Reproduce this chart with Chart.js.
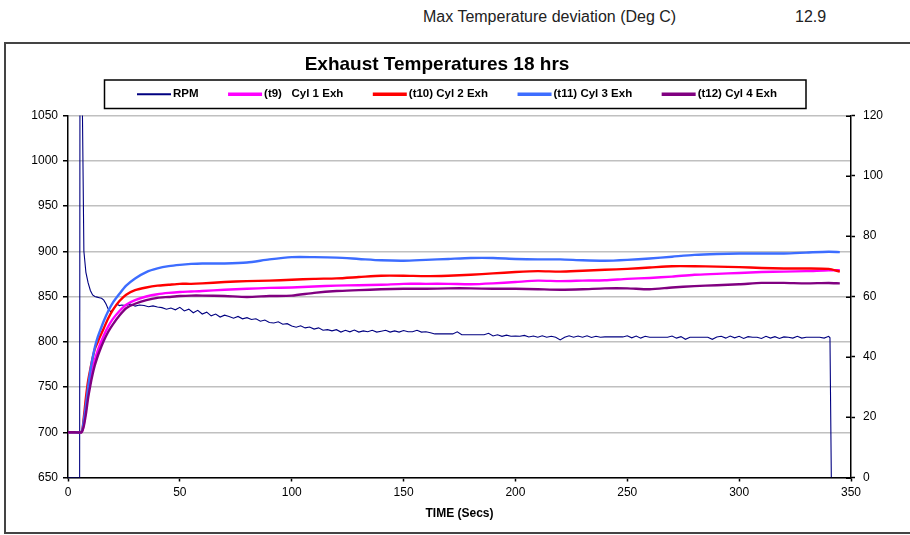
<!DOCTYPE html>
<html><head><meta charset="utf-8">
<script src="https://cdn.jsdelivr.net/npm/chart.js@4.4.1/dist/chart.umd.min.js"></script>
<style>
html,body{margin:0;padding:0;background:#fff;}
#wrap{position:relative;width:910px;height:535px;overflow:hidden;font-family:"Liberation Sans",Arial,sans-serif;}
#frame{position:absolute;left:4px;top:42px;width:930px;height:492px;border:2px solid #444;box-sizing:border-box;}
.hdr{position:absolute;top:7px;font-size:16px;color:#222;line-height:20px;white-space:pre;}
canvas{position:absolute;left:0;top:0;}
</style></head><body>
<div id="wrap">
<div class="hdr" style="left:423px">Max Temperature deviation (Deg C)</div>
<div class="hdr" style="left:795px">12.9</div>
<div id="frame"></div>
<canvas id="c" width="910" height="535"></canvas>
</div>
<script>
// ---------- DATA ----------
const seriesLabels = ['RPM', '(t9)   Cyl 1 Exh', '(t10) Cyl 2 Exh', '(t11) Cyl 3 Exh', '(t12) Cyl 4 Exh'];
const xTicks = [0, 50, 100, 150, 200, 250, 300, 350];
const yTicks = [650, 700, 750, 800, 850, 900, 950, 1000, 1050];
const y2Ticks = [0, 20, 40, 60, 80, 100, 120];

const tempTime = [0,3,6,7,8,9,10,11,12,13,14,16,18,20,23,26,30,35,40,45,50,55,60,70,80,90,100,110,120,130,140,150,160,170,180,190,200,210,220,230,240,250,260,270,280,290,300,310,320,330,340,345];
const cyl1 = [700,700,700,708,725,743,758,770,780,788,795,807,817,825,834,841,846,850,852.5,854,855,855.5,856,857.5,858.5,859.5,860,861,862,862.5,863,864,864,864,863.5,864.5,866,867.5,867,867.5,868,869.5,870.5,872,874,875,876,877,877.5,878,879,879];
const cyl2 = [700,700,700,715,738,757,770,782,792,798,804,815,826,835,845,852,857,860,862,863,864,864,864.5,866,867,867.5,868.5,869.5,870,871.5,873,873,872.5,873,874,875.5,877,878,877.5,878.5,879.5,880.5,882,883.5,883.5,883,882.5,881.5,881,881,880.5,877.5];
const cyl3 = [700,700,700,712,730,750,768,782,794,803,810,823,834,843,853,862,870,877,881,883.5,885,886,886.5,886.5,887.5,891,893.5,893.5,893,891.5,890,889.5,890.5,891.5,892.5,892.5,891.5,891,891,890,889.5,890.5,892,894,896,897,897.5,897.5,897.5,898.5,899.5,899];
const cyl4 = [700,700,700,706,720,738,752,764,774,782,789,801,811,819,829,837,842,846,848.5,849.5,850.5,851,851,850.5,849.5,850.5,851,854,856,857,858,858.5,858.5,859,859,858.5,858.5,858,857.5,858,859,859,858,860,861.5,862.5,863.5,865,865,864.5,865,864.5];

const rpmTime = [0,5.2,5.4,5.9,7.1,8,9,10,11,12,13,14,15,16,17,18,19,20,21,22,23,
24,26,28,30,32,34,36,38,40,
42,44,46,48,50,52,54,56,58,60,
62,64,66,68,70,72,74,76,78,80,
82,84,86,88,90,92,94,96,98,100,
102,104,106,108,110,112,114,116,118,120,
122,124,126,128,130,132,134,136,138,140,
142,144,146,148,150,152,154,156,158,160,
162,164,166,168,170,172,174,176,178,180,
182,184,186,188,190,192,194,196,198,200,
202,204,206,208,210,212,214,216,218,220,
222,224,226,228,230,232,234,236,238,240,
242,244,246,248,250,252,254,256,258,260,
262,264,266,268,270,272,274,276,278,280,
282,284,286,288,290,292,294,296,298,300,
302,304,306,308,310,312,314,316,318,320,
322,324,326,328,330,332,334,336,338,340,
340.6,341.2];
const rpm = [0,0,180,160,75,68,64.5,62,60.5,60,59.8,59.6,59.4,58.8,57.5,55.8,55,55.6,56.6,57.4,57,
57.2,57.0,57.5,56.8,57.2,57.0,56.6,56.9,56.5,
56.3,55.8,56.2,55.6,56.4,55.2,55.8,54.6,55.4,54.2,
54.8,53.6,54.2,53.2,53.8,53.4,52.8,53.4,52.6,53.0,
52.4,52.6,51.8,52.2,51.4,51.2,51.6,50.8,51.0,50.2,
49.8,50.3,49.6,49.9,49.2,49.6,48.8,49.0,48.6,49.0,
48.2,48.8,48.3,48.9,48.2,48.6,48.3,48.8,48.2,48.5,
48.8,48.2,48.6,48.2,48.7,48.3,48.3,48.8,48.2,48.3,
48.0,47.6,47.6,47.6,47.6,47.6,48.3,47.3,47.3,47.3,
47.3,47.3,47.3,47.8,46.9,47.3,46.8,47.2,46.8,46.9,
46.8,47.1,46.6,46.9,46.5,47.0,46.5,46.8,46.5,45.6,
46.5,47.0,46.5,46.9,46.5,47.0,46.4,46.8,46.5,46.6,
46.6,46.6,46.6,46.6,47.0,46.3,46.9,46.2,46.8,46.5,
46.5,46.5,46.5,46.5,46.9,46.2,46.7,45.8,46.5,46.5,
46.5,46.5,46.5,45.8,46.6,46.8,46.2,46.9,46.3,46.8,
46.1,46.7,46.5,46.5,46.1,46.8,46.2,46.7,46.1,46.6,
46.5,46.2,46.8,46.2,46.5,46.5,46.5,46.5,46.2,46.8,
46.3,0];

// ---------- CHART ----------
const FONT = '"Liberation Sans", Arial, sans-serif';
Chart.defaults.font.family = FONT;
Chart.defaults.color = '#000';

const pts = (xs, ys) => xs.map((x, i) => ({x: x, y: ys[i]}));
const plain = v => String(v);

const titleShift = {
  id: 'titleShift',
  afterLayout(chart) {
    const t = chart.titleBlock;
    if (t) { t.left -= 18; t.right -= 18; }
  }
};

const legendBox = {
  id: 'legendBox',
  afterDraw(chart) {
    const ctx = chart.ctx;
    const L = 104.5, T = 80, W = 701.5, H = 28.5;
    ctx.save();
    ctx.strokeStyle = '#000';
    ctx.lineWidth = 1.5;
    ctx.strokeRect(L, T, W, H);
    ctx.font = 'bold 11.5px ' + FONT;
    ctx.textBaseline = 'middle';
    ctx.textAlign = 'left';
    const cy = T + H / 2;
    let x = 137;
    chart.data.datasets.forEach(ds => {
      ctx.strokeStyle = ds.borderColor;
      ctx.lineWidth = ds.borderWidth + 1;
      ctx.beginPath();
      ctx.moveTo(x, cy);
      ctx.lineTo(x + 34, cy);
      ctx.stroke();
      ctx.fillStyle = '#000';
      ctx.fillText(ds.label, x + 36, cy);
      x += 36 + ctx.measureText(ds.label).width + 29.5;
    });
    ctx.restore();
  }
};

const innerTicks = {
  id: 'innerTicks',
  afterDraw(chart) {
    const ctx = chart.ctx, s = chart.scales.y2, a = chart.chartArea;
    ctx.save();
    ctx.strokeStyle = '#000';
    ctx.lineWidth = 1.5;
    s.ticks.forEach(t => {
      const py = Math.round(s.getPixelForValue(t.value)) + 0.25;
      ctx.beginPath();
      ctx.moveTo(a.right - 5, py);
      ctx.lineTo(a.right, py);
      ctx.stroke();
    });
    ctx.restore();
  }
};

const tempDs = (label, data, color, order) => ({
  label, data: pts(tempTime, data), yAxisID: 'y', borderColor: color, backgroundColor: color,
  borderWidth: 2.4, pointRadius: 0, tension: 0.25, order
});

new Chart(document.getElementById('c'), {
  type: 'line',
  data: {
    datasets: [
      {label: seriesLabels[0], data: pts(rpmTime, rpm), yAxisID: 'y2', borderColor: '#000080',
       backgroundColor: '#000080', borderWidth: 1.1, pointRadius: 0, tension: 0, order: 5},
      tempDs(seriesLabels[1], cyl1, '#ff00ff', 4),
      tempDs(seriesLabels[2], cyl2, '#ff0000', 3),
      tempDs(seriesLabels[3], cyl3, '#3d6dff', 2),
      tempDs(seriesLabels[4], cyl4, '#800080', 1)
    ]
  },
  options: {
    responsive: false, animation: false, devicePixelRatio: 1,
    layout: {padding: {top: 50, left: 0, right: 0, bottom: 0}},
    plugins: {
      legend: {display: false},
      tooltip: {enabled: false},
      title: {display: true, text: 'Exhaust Temperatures 18 hrs', color: '#000',
              font: {size: 19, weight: 'bold'}, padding: {top: 3, bottom: 39.7}}
    },
    scales: {
      x: {
        type: 'linear', min: xTicks[0], max: xTicks[xTicks.length - 1],
        afterBuildTicks(s) { s.ticks = xTicks.map(v => ({value: v})); },
        ticks: {color: '#000', font: {size: 12}, padding: 4, maxRotation: 0, callback: plain},
        grid: {drawOnChartArea: false, tickLength: 4, tickColor: '#000', tickWidth: 1.5},
        border: {color: '#000', width: 1.5},
        title: {display: true, text: 'TIME (Secs)', color: '#000', font: {size: 12, weight: 'bold'},
                padding: {top: 0, bottom: 14}},
        afterFit(s) { s.height = 57.5; }
      },
      y: {
        position: 'left', min: yTicks[0], max: yTicks[yTicks.length - 1],
        afterBuildTicks(s) { s.ticks = yTicks.map(v => ({value: v})); },
        ticks: {color: '#000', font: {size: 12}, padding: 5, callback: plain},
        grid: {color: '#c0c0c0', lineWidth: 1.5, tickLength: 5, tickColor: '#000', tickWidth: 1.5},
        border: {color: '#000', width: 1.5},
        afterFit(s) { s.width = 68; }
      },
      y2: {
        position: 'right', min: y2Ticks[0], max: y2Ticks[y2Ticks.length - 1],
        afterBuildTicks(s) { s.ticks = y2Ticks.map(v => ({value: v})); },
        ticks: {color: '#000', font: {size: 12}, padding: 8, callback: plain},
        grid: {drawOnChartArea: false, tickLength: 4, tickColor: '#000', tickWidth: 1.5},
        border: {color: '#000', width: 1.5},
        afterFit(s) { s.width = 59; }
      }
    }
  },
  plugins: [titleShift, legendBox, innerTicks]
});
</script>
</body></html>
